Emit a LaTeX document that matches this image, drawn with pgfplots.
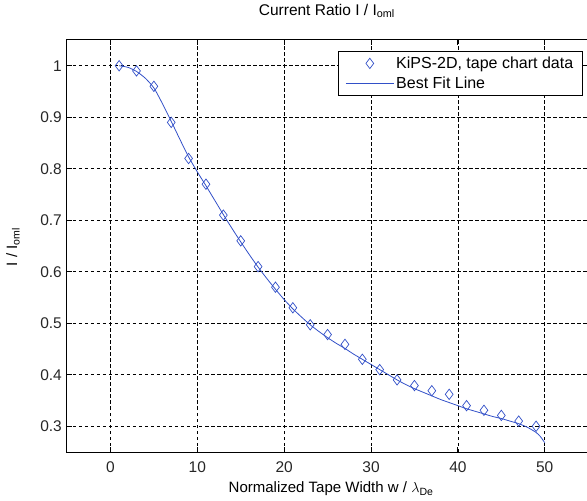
\documentclass[border=0pt]{standalone}
\usepackage{pgfplots}
\pgfplotsset{compat=1.18}
\usepackage{fontspec}
\setmainfont{Liberation Sans}
\definecolor{mblue}{RGB}{50,80,200}
\begin{document}
\fontsize{15}{18}\selectfont
\begin{tikzpicture}
\begin{axis}[
  at={(0,0)}, anchor=south west,
  scale only axis, width=525pt, height=412pt,
  xmin=-5, xmax=55.44, ymin=0.25, ymax=1.05,
  xtick={0,10,20,30,40,50},
  ytick={0.3,0.4,0.5,0.6,0.7,0.8,0.9,1},
  /pgf/number format/assume math mode=true,
  ticklabel style={font=\fontsize{15.5}{18}\selectfont, text=black!85},
  yticklabel style={inner sep=0pt, xshift=-5pt},
  xticklabel style={inner sep=0pt, yshift=-9pt},
  tick align=inside, major tick length=5pt,
  tick style={black, line width=0.8pt},
  axis line style={black, line width=1pt},
  grid=major,
  major grid style={black, line width=0.7pt, dash pattern=on 3.5pt off 2.5pt},
  title={Current Ratio I / I$_{\mathrm{oml}}$},
  title style={at={(axis description cs:0.495,1.046)}, anchor=base, inner sep=0pt, font=\fontsize{15.5}{18}\selectfont},
  xlabel={Normalized Tape Width w / $\lambda_{\mathrm{De}}$},
  xlabel style={at={(axis description cs:0.503,-0.0995)}, anchor=base, inner sep=0pt, font=\fontsize{15}{18}\selectfont},
  ylabel={I / I$_{\mathrm{oml}}$},
  ylabel style={at={(axis description cs:-0.0952,0.4976)}, anchor=base, rotate=0, inner sep=0pt, font=\fontsize{15}{18}\selectfont},
  legend image code/.code={\draw[mark repeat=2,mark phase=2,#1] plot coordinates {(0pt,0pt) (24pt,0pt) (48pt,0pt)};},
  legend style={at={(axis cs:54.36,1.0285)}, anchor=north east, draw=black, line width=0.8pt, fill=white,
    font=\fontsize{16}{19}\selectfont, inner xsep=7pt, inner ysep=3pt, row sep=2.5pt,
    nodes={inner sep=2pt}},
  legend cell align=left,
]
\addplot[only marks, mark=diamond, mark size=5.2pt, mark options={mblue, line width=0.7pt, fill=none}] coordinates {
(1,1.000) (3,0.990) (5,0.960) (7,0.890) (9,0.820) (11,0.770) (13,0.710) (15,0.660) (17,0.610) (19,0.570)
(21,0.530) (23,0.497) (25,0.478) (27,0.459) (29,0.430) (31,0.410) (33,0.390) (35,0.379) (37,0.369) (39,0.362)
(41,0.340) (43,0.331) (45,0.321) (47,0.310) (49,0.300)
};
\addlegendentry{KiPS-2D, tape chart data}
\addplot[mblue, line width=0.8pt, smooth, tension=0.4] coordinates {
(1,1.000) (2,0.997) (3,0.989) (4,0.976) (5,0.957) (6,0.926) (7,0.892) (8,0.857) (9,0.823) (10,0.794)
(11,0.767) (12,0.739) (13,0.711) (14,0.684) (15,0.658) (16,0.633) (17,0.609) (18,0.587) (19,0.566) (20,0.546)
(21,0.528) (22,0.512) (23,0.497) (24,0.484) (25,0.472) (26,0.461) (27,0.451) (28,0.440) (29,0.430) (30,0.420)
(31,0.410) (32,0.400) (33,0.390) (34,0.381) (35,0.373) (36,0.366) (37,0.359) (38,0.352) (39,0.346) (40,0.340)
(41,0.334) (42,0.329) (43,0.324) (44,0.319) (45,0.315) (46,0.310) (47,0.305) (48,0.298) (49,0.288) (49.5,0.280) (50,0.268)
};
\addlegendentry{Best Fit Line}
\end{axis}
\pgfresetboundingbox
\path[use as bounding box] (-67pt,-49pt) rectangle (520pt,452pt);
\end{tikzpicture}
\end{document}
